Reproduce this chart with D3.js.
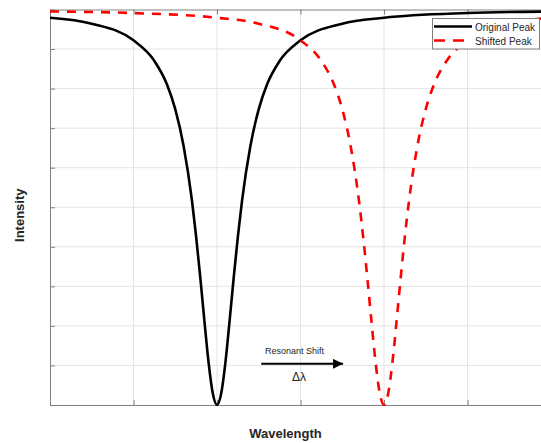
<!DOCTYPE html>
<html>
<head>
<meta charset="utf-8">
<script src="https://cdn.jsdelivr.net/npm/d3@7"></script>
<style>
  html, body { margin: 0; padding: 0; background: #fff; overflow: hidden; }
  svg { display: block; font-family: "Liberation Sans", Arial, sans-serif; }
</style>
</head>
<body>
<svg id="chart" width="541" height="443"></svg>
<script>
// original resonance dip
const originalX = [0, 0.5, 1.0, 1.25, 1.4, 1.5, 1.6, 1.7, 1.75, 1.8, 1.85, 1.9, 1.95, 2.0,
                   2.05, 2.1, 2.15, 2.2, 2.25, 2.3, 2.4, 2.5, 2.6, 2.75, 3.0, 3.5, 4.0, 5.0, 6.0];
const originalY = [0.979, 0.964, 0.922, 0.870, 0.811, 0.748, 0.655, 0.517, 0.426, 0.322, 0.211, 0.106, 0.029, 0.0,
                   0.029, 0.106, 0.211, 0.322, 0.426, 0.517, 0.655, 0.748, 0.811, 0.870, 0.922, 0.964, 0.979, 0.991, 0.995];

// shifted dip
const shiftedX = [0, 1.0, 2.0, 2.5, 3.0, 3.25, 3.4, 3.5, 3.6, 3.7, 3.75, 3.8, 3.85, 3.9, 3.95, 4.0,
                  4.05, 4.1, 4.15, 4.2, 4.25, 4.3, 4.4, 4.5, 4.6, 4.75, 5.0, 5.5, 6.0];
const shiftedY = [0.995, 0.991, 0.979, 0.964, 0.922, 0.870, 0.811, 0.748, 0.655, 0.517, 0.426, 0.322, 0.211, 0.106, 0.029, 0.0,
                  0.029, 0.106, 0.211, 0.322, 0.426, 0.517, 0.655, 0.748, 0.811, 0.870, 0.922, 0.964, 0.979];

const xTicks = [0, 1, 2, 3, 4, 5, 6];
const yTicks = [0, 0.1, 0.2, 0.3, 0.4, 0.5, 0.6, 0.7, 0.8, 0.9, 1.0];
const seriesNames = ['Original Peak', 'Shifted Peak'];
const arrowFrom = [2.53, 0.104];
const arrowTo = [3.51, 0.104];

const svg = d3.select('#chart');
const margin = {top: 9.5, left: 50, bottom: 38};
const height = 443 - margin.top - margin.bottom;
const color = {axis: '#808080', grid: '#e4e4e4', text: '#262626', red: '#ff0000'};

const x = d3.scaleLinear().domain([0, 6]).range([margin.left, margin.left + 6 * 83.5]);
const y = d3.scaleLinear().domain([0, 1]).range([margin.top + height, margin.top]);

// grid
const grid = svg.append('g');
grid.selectAll('line.v')
    .data(xTicks.slice(1))
    .enter().append('line')
    .attr('x1', d => x(d)).attr('x2', d => x(d))
    .attr('y1', y(0)).attr('y2', y(1))
    .attr('stroke', color.grid);
grid.selectAll('line.h')
    .data(yTicks.slice(1, -1))
    .enter().append('line')
    .attr('x1', x(0)).attr('x2', x(6))
    .attr('y1', d => y(d)).attr('y2', d => y(d))
    .attr('stroke', color.grid);

// axes, ticks inward, no labels
const axisStyle = g => {
  g.select('.domain').attr('stroke', color.axis);
  g.selectAll('.tick line').attr('stroke', color.axis);
  g.selectAll('.tick text').remove();
};
svg.append('g').attr('transform', `translate(0,${y(0)})`)
    .call(d3.axisBottom(x).tickValues(xTicks).tickSizeInner(-5).tickSizeOuter(0))
    .call(axisStyle);
svg.append('g').attr('transform', `translate(0,${y(1)})`)
    .call(d3.axisTop(x).tickValues(xTicks).tickSizeInner(-5).tickSizeOuter(0))
    .call(axisStyle);
svg.append('g').attr('transform', `translate(${x(0)},0)`)
    .call(d3.axisLeft(y).tickValues(yTicks).tickSizeInner(-5).tickSizeOuter(0))
    .call(axisStyle);

// curves
const line = d3.line()
    .x(d => x(d[0]))
    .y(d => y(d[1]))
    .curve(d3.curveMonotoneX);

svg.append('path')
    .datum(d3.zip(originalX, originalY))
    .attr('d', line)
    .attr('fill', 'none')
    .attr('stroke', '#000')
    .attr('stroke-width', 2.6);

svg.append('path')
    .datum(d3.zip(shiftedX, shiftedY))
    .attr('d', line)
    .attr('fill', 'none')
    .attr('stroke', color.red)
    .attr('stroke-width', 2.6)
    .attr('stroke-dasharray', '9,8');

// annotation arrow
svg.append('defs').append('marker')
    .attr('id', 'head')
    .attr('viewBox', '0 0 10 10')
    .attr('refX', 10).attr('refY', 5)
    .attr('markerWidth', 5.5).attr('markerHeight', 5)
    .attr('markerUnits', 'strokeWidth')
    .attr('orient', 'auto')
    .append('path').attr('d', 'M0,0L10,5L0,10Z').attr('fill', '#000');

svg.append('line')
    .attr('x1', x(arrowFrom[0])).attr('y1', y(arrowFrom[1]))
    .attr('x2', x(arrowTo[0])).attr('y2', y(arrowTo[1]))
    .attr('stroke', '#000')
    .attr('stroke-width', 2)
    .attr('marker-end', 'url(#head)');

svg.append('text')
    .text('Resonant Shift')
    .attr('x', 265).attr('y', 354)
    .attr('fill', color.text)
    .style('font-size', '9px');

svg.append('text')
    .text('Δλ')
    .attr('x', 292).attr('y', 381)
    .attr('fill', color.text)
    .style('font-size', '12px');

// axis titles
svg.append('text')
    .text('Wavelength')
    .attr('x', 285.5).attr('y', 438)
    .attr('text-anchor', 'middle')
    .attr('fill', color.text)
    .style('font-size', '13px')
    .style('font-weight', 'bold');

svg.append('text')
    .text('Intensity')
    .attr('transform', `translate(24,${y(0.5) + 8}) rotate(-90)`)
    .attr('text-anchor', 'middle')
    .attr('fill', color.text)
    .style('font-size', '13px')
    .style('font-weight', 'bold');

// legend
const legend = svg.append('g');
legend.append('rect')
    .attr('x', 432.5).attr('y', 18.5)
    .attr('width', 107).attr('height', 30.5)
    .attr('fill', '#fff')
    .attr('stroke', color.axis);

const legendRows = legend.selectAll('g')
    .data(seriesNames)
    .enter().append('g')
    .attr('transform', (d, i) => `translate(0,${26.5 + i * 14})`);

legendRows.append('line')
    .attr('x1', 434).attr('x2', 472)
    .attr('y1', 0).attr('y2', 0)
    .attr('stroke', (d, i) => i === 0 ? '#000' : color.red)
    .attr('stroke-width', 2.6)
    .attr('stroke-dasharray', (d, i) => i === 0 ? null : '11,8');

legendRows.append('text')
    .text(d => d)
    .attr('x', 475).attr('y', 4)
    .attr('fill', color.text)
    .style('font-size', '10px');
</script>
</body>
</html>
